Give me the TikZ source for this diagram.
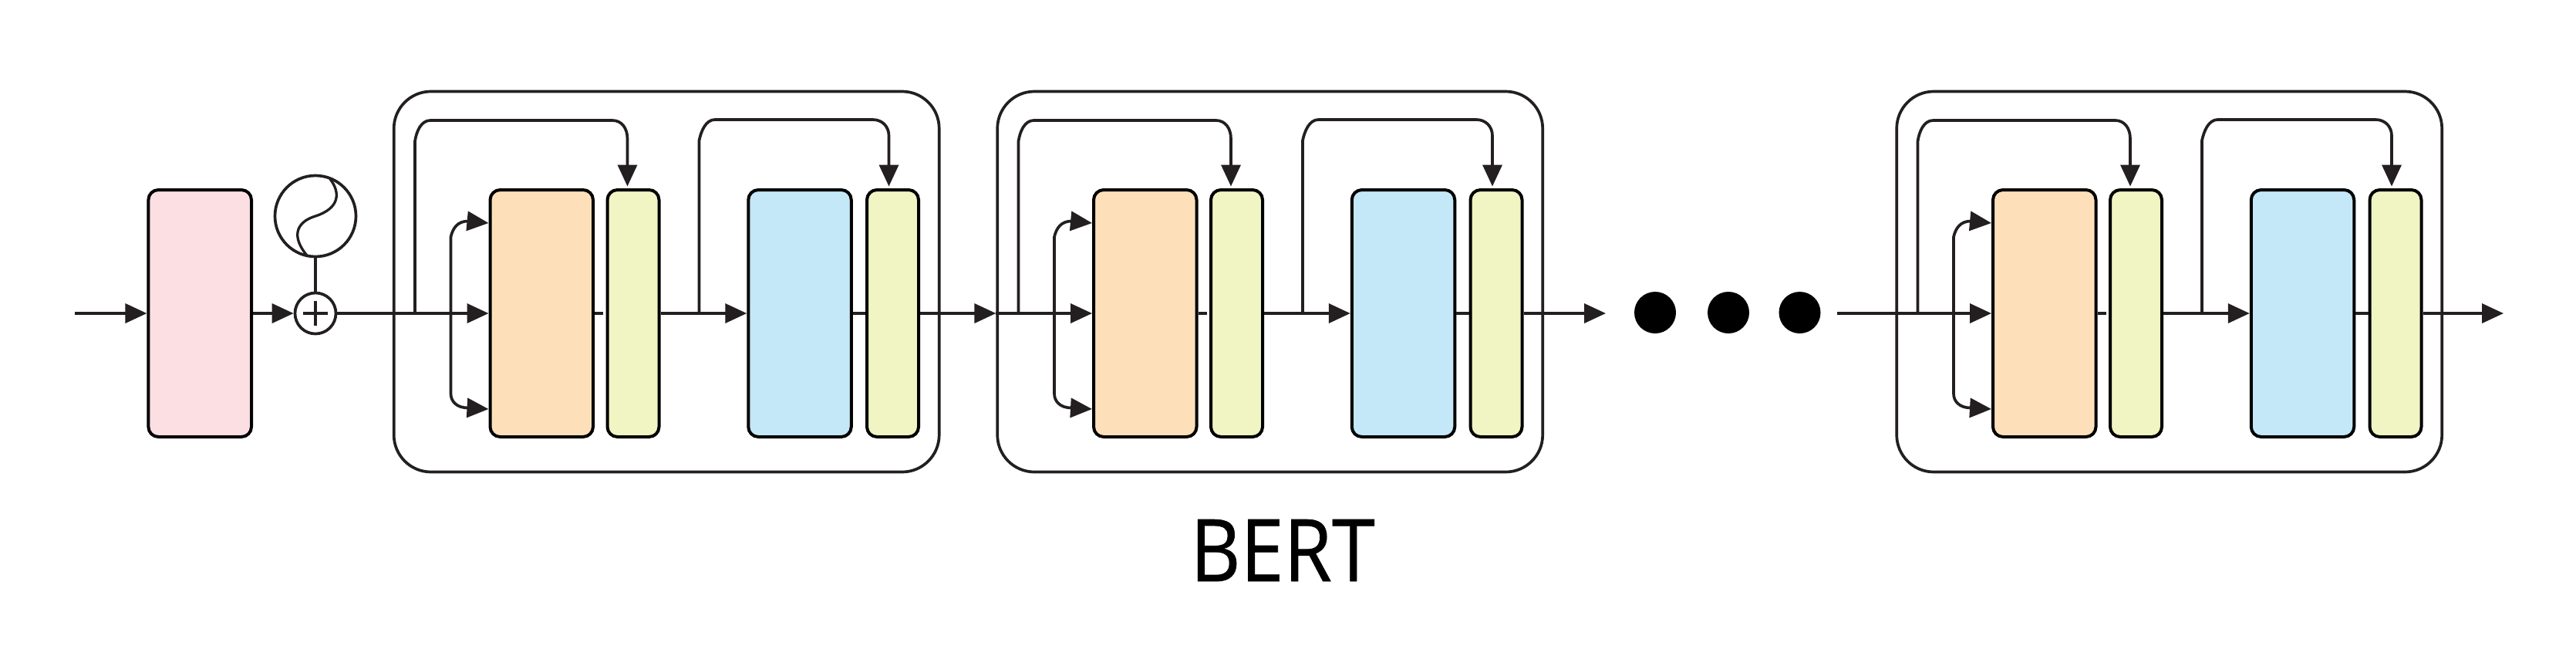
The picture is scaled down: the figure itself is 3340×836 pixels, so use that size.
\documentclass[tikz,border=0pt]{standalone}
\usepackage{fontspec}
\usetikzlibrary{arrows.meta}
\newfontfamily\bertfont[FakeStretch=0.9,FakeBold=0.6]{Open Sans}
\definecolor{inkc}{HTML}{231F20}
\definecolor{pinkc}{HTML}{FBDFE3}
\definecolor{orangec}{HTML}{FDE0BA}
\definecolor{greenc}{HTML}{F1F4C3}
\definecolor{bluec}{HTML}{C4E8F7}
\tikzset{
  layerbox/.style={draw=black,line width=4pt,rounded corners=13pt,inner sep=0pt,minimum height=320pt},
  widebox/.style={layerbox,minimum width=133.5pt},
  thinbox/.style={layerbox,minimum width=67pt,fill=greenc},
  outerbox/.style={draw=inkc,line width=3.7pt,rounded corners=48pt,inner sep=0pt,minimum width=707pt,minimum height=493pt},
  conn/.style={draw=inkc,line width=3.7pt},
  arrowed/.style={conn,-{Triangle[length=28pt,width=25pt]}},
  ring/.style={circle,draw=inkc,line width=3.7pt,inner sep=0pt,fill=white},
  blackdot/.style={circle,fill=black,inner sep=0pt,minimum size=54pt}
}
\newcommand{\bertblock}[2]{%
  \begin{scope}[xshift=#2pt]
    \node[outerbox] (outer#1) at (864.2,365) {};
    \node[widebox,fill=orangec] (attn#1) at (702.25,406) {};
    \node[thinbox] (norma#1) at (821,406) {};
    \node[widebox,fill=bluec] (ffn#1) at (1037,406) {};
    \node[thinbox] (normb#1) at (1157.5,406) {};
    \coordinate (skipa#1) at (538,406);
    \coordinate (skipb#1) at (906.5,406);
    \coordinate (fork#1) at (584.5,406);
    \coordinate (stub#1) at (782,406);
    \coordinate (ta#1) at (813.5,180);
    \coordinate (tb#1) at (1152.5,176);
    \coordinate (up#1) at (607,289);
    \coordinate (dn#1) at (607,530);
    \draw[arrowed,shorten >=2.5pt] (skipa#1) -- (538,183) .. controls (540,170) and (546,156) .. (558,156) -- (794,156) .. controls (806,156) and (813.5,166) .. (ta#1) -- (ta#1|-norma#1.north);
    \draw[arrowed,shorten >=2.5pt] (skipb#1) -- (906.5,182) .. controls (909,170) and (915,155) .. (927,155) -- (1131.5,155) .. controls (1144,155) and (1152.5,164) .. (tb#1) -- (tb#1|-normb#1.north);
    \draw[arrowed] (fork#1) -- (584.5,307) .. controls (587,296) and (593,286.5) .. (607,286.5) -- (attn#1.west|-up#1);
    \draw[arrowed] (fork#1) -- (584.5,510) .. controls (584.5,520) and (592,528.5) .. (607,528.5) -- (attn#1.west|-dn#1);
    \draw[conn] (attn#1.east) -- (stub#1);
    \draw[arrowed] (norma#1.east) -- (ffn#1.west);
    \draw[conn] (ffn#1.east) -- (normb#1.west);
  \end{scope}%
}
\begin{document}
\begin{tikzpicture}[x=1pt,y=-1pt]
  \path[use as bounding box,fill=white] (0,0) rectangle (3340,836);
  \bertblock{A}{0}
  \bertblock{B}{782.5}
  \bertblock{C}{1948.5}

  \node[layerbox,minimum width=133.6pt,fill=pinkc] (embed) at (259.2,406) {};
  \node[ring,minimum size=105pt] (pos) at (409,280) {};
  \node[ring,minimum size=53pt] (plus) at (409,406) {};
  \draw[conn,line width=3.3pt] (428,232) .. controls (442,250) and (440,270) .. (409,280) .. controls (383,288) and (378,307) .. (398,331);
  \draw[conn] ([xshift=-16pt]plus.center) -- ([xshift=16pt]plus.center);
  \draw[conn] ([yshift=-16pt]plus.center) -- ([yshift=16pt]plus.center);

  \coordinate (input) at (97,406);
  \draw[arrowed] (input) -- (embed.west);
  \draw[arrowed] (embed.east) -- (plus.west);
  \draw[conn] (pos.south) -- (plus.north);
  \draw[arrowed] (plus.east) -- (attnA.west);

  \draw[arrowed] (normbA.east) -- (outerB.west|-attnB.west);
  \draw[arrowed] (outerB.west|-attnB.west) -- (attnB.west);

  \coordinate (outB) at (2082,406);
  \draw[arrowed] (normbB.east) -- (outB);

  \node[blackdot] (dota) at (2146,405) {};
  \node[blackdot] (dotb) at (2241,405) {};
  \node[blackdot] (dotc) at (2333.5,405) {};

  \coordinate (inC) at (2382,406);
  \draw[arrowed] (inC) -- (attnC.west);
  \coordinate (outC) at (3246,406);
  \draw[arrowed] (normbC.east) -- (outC);

  \node[anchor=base,inner sep=0pt,text=black] (title) at (1663,753) {\bertfont\fontsize{112}{112}\selectfont BERT};
\end{tikzpicture}
\end{document}
